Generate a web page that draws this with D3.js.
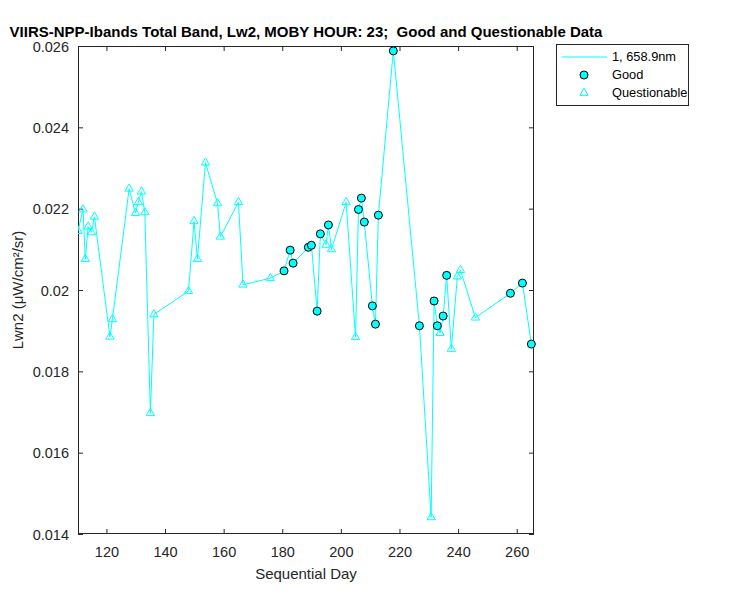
<!DOCTYPE html>
<html><head><meta charset="utf-8">
<script src="https://cdn.jsdelivr.net/npm/d3@7"></script>
<style>
body{margin:0;background:#fff;}
text{font-family:"Liberation Sans",Arial,sans-serif;}
</style>
</head><body>
<svg id="chart" width="750" height="600"></svg>
<script>
// Data
const days = [110.3,112.0,112.8,113.75,114.9,115.9,121.2,122.05,127.75,129.9,130.9,131.95,133.1,135.0,136.2,148.0,149.9,151.05,153.8,157.9,158.9,165.05,166.6,175.95,180.6,182.7,183.7,188.9,189.95,191.9,193.0,194.95,195.75,196.8,201.8,205.0,206.0,207.0,208.0,210.75,211.8,212.8,217.9,226.8,230.8,231.8,232.9,233.85,234.9,236.1,237.7,239.75,240.8,245.9,257.85,261.95,265.0];
const lwn2 = [0.02145,0.02198,0.02076,0.02156,0.02142,0.02180,0.01885,0.01928,0.02249,0.02189,0.02216,0.02242,0.02191,0.01697,0.01940,0.01997,0.02169,0.02076,0.02313,0.02213,0.02131,0.02216,0.02013,0.02029,0.02047,0.02098,0.02066,0.02105,0.02110,0.01948,0.02138,0.02111,0.02160,0.02100,0.02216,0.01884,0.02198,0.02226,0.02167,0.01961,0.01916,0.02184,0.02588,0.01912,0.01441,0.01973,0.01912,0.01894,0.01936,0.02036,0.01855,0.02033,0.02049,0.01932,0.01992,0.02017,0.01867];
// quality: G = good, Q = questionable
const quality = ["Q","Q","Q","Q","Q","Q","Q","Q","Q","Q","Q","Q","Q","Q","Q","Q","Q","Q","Q","Q","Q","Q","Q","Q","G","G","G","G","G","G","G","Q","G","Q","Q","Q","G","G","G","G","G","G","G","G","Q","G","G","Q","G","G","Q","Q","Q","Q","G","G","G"];
const xDomain = [110.3, 265.9];
const yDomain = [0.014, 0.026];
const xTicks = [120,140,160,180,200,220,240,260];
const yTicks = [0.014,0.016,0.018,0.02,0.022,0.024,0.026];
const yTickLabels = ["0.014","0.016","0.018","0.02","0.022","0.024","0.026"];
const titleText = "VIIRS-NPP-Ibands Total Band, Lw2, MOBY HOUR: 23;  Good and Questionable Data";
const xLabel = "Sequential Day";
const yLabel = "Lwn2 (\u03bcW/cm\u00b2/sr)";
const legendItems = ["1, 658.9nm","Good","Questionable"];

const svg = d3.select("#chart");
const L=78, R=534, T=46, B=534;
const axisColor="#262626";
const cyan="#00ffff";
const x = d3.scaleLinear().domain(xDomain).range([L,R]);
const y = d3.scaleLinear().domain(yDomain).range([B,T]);

const data = days.map((d,i)=>({d, v:lwn2[i], q:quality[i]}));

svg.append("defs").append("clipPath").attr("id","clip")
  .append("rect").attr("x",L).attr("y",T-6).attr("width",R-L+6).attr("height",B-T+12);

const fmtY = d=>yTickLabels[yTicks.indexOf(d)];
const gx = svg.append("g").attr("transform",`translate(0,${B})`)
  .call(d3.axisBottom(x).tickValues(xTicks).tickSizeInner(-5).tickSizeOuter(0).tickPadding(13));
const gxTop = svg.append("g").attr("transform",`translate(0,${T})`)
  .call(d3.axisTop(x).tickValues(xTicks).tickSizeInner(-5).tickSizeOuter(0).tickFormat(""));
const gy = svg.append("g").attr("transform",`translate(${L},0)`)
  .call(d3.axisLeft(y).tickValues(yTicks).tickFormat(fmtY).tickSizeInner(-5).tickSizeOuter(0).tickPadding(9));
const gyR = svg.append("g").attr("transform",`translate(${R},0)`)
  .call(d3.axisRight(y).tickValues(yTicks).tickSizeInner(-5).tickSizeOuter(0).tickFormat(""));
[gx,gxTop,gy,gyR].forEach(g=>{
  g.select(".domain").remove();
  g.selectAll("line").attr("stroke",axisColor).attr("stroke-width",1);
  g.selectAll("text").attr("fill",axisColor).style("font-size","14.5px").style("font-family","'Liberation Sans',Arial,sans-serif");
});
gy.selectAll("text").attr("dy","0.35em");
svg.append("rect").attr("x",L+0.5).attr("y",T+0.5).attr("width",R-L-1).attr("height",B-T-1)
  .attr("fill","none").attr("stroke",axisColor).attr("stroke-width",1);

const plot = svg.append("g").attr("clip-path","url(#clip)");
plot.append("path").datum(data)
  .attr("d", d3.line().x(p=>x(p.d)).y(p=>y(p.v)))
  .attr("fill","none").attr("stroke",cyan).attr("stroke-width",1);

const tri = d3.symbol().type(d3.symbolTriangle).size(30);
plot.selectAll(".q").data(data.filter(p=>p.q==="Q")).join("path")
  .attr("d",tri).attr("transform",p=>`translate(${x(p.d)},${y(p.v)})`)
  .attr("fill","none").attr("stroke",cyan).attr("stroke-width",1);
plot.selectAll(".g").data(data.filter(p=>p.q==="G")).join("circle")
  .attr("cx",p=>x(p.d)).attr("cy",p=>y(p.v)).attr("r",4)
  .attr("fill",cyan).attr("stroke","#000").attr("stroke-width",1);

svg.append("text").attr("x",(L+R)/2).attr("y",37).attr("text-anchor","middle")
  .style("font-weight","bold").style("font-size","15px").style("white-space","pre")
  .attr("fill","#000").text(titleText);
svg.append("text").attr("x",(L+R)/2).attr("y",579).attr("text-anchor","middle")
  .style("font-size","15px").attr("fill",axisColor).text(xLabel);
svg.append("text").attr("transform",`translate(23,${(T+B)/2}) rotate(-90)`).attr("text-anchor","middle")
  .style("font-size","15px").attr("fill",axisColor).text(yLabel);

const lg = svg.append("g");
lg.append("rect").attr("x",556.5).attr("y",44.5).attr("width",132).attr("height",61)
  .attr("fill","#fff").attr("stroke",axisColor).attr("stroke-width",1);
lg.append("line").attr("x1",562).attr("x2",607).attr("y1",57).attr("y2",57).attr("stroke",cyan).attr("stroke-width",1);
lg.append("circle").attr("cx",584).attr("cy",75).attr("r",4).attr("fill",cyan).attr("stroke","#000");
lg.append("path").attr("d",tri).attr("transform","translate(584,93)").attr("fill","none").attr("stroke",cyan);
[57,75,93].forEach((yy,i)=>{
  lg.append("text").attr("x",612).attr("y",yy).attr("dy","0.35em").style("font-size","12.8px")
    .attr("fill","#000").text(legendItems[i]);
});
</script>
</body></html>
